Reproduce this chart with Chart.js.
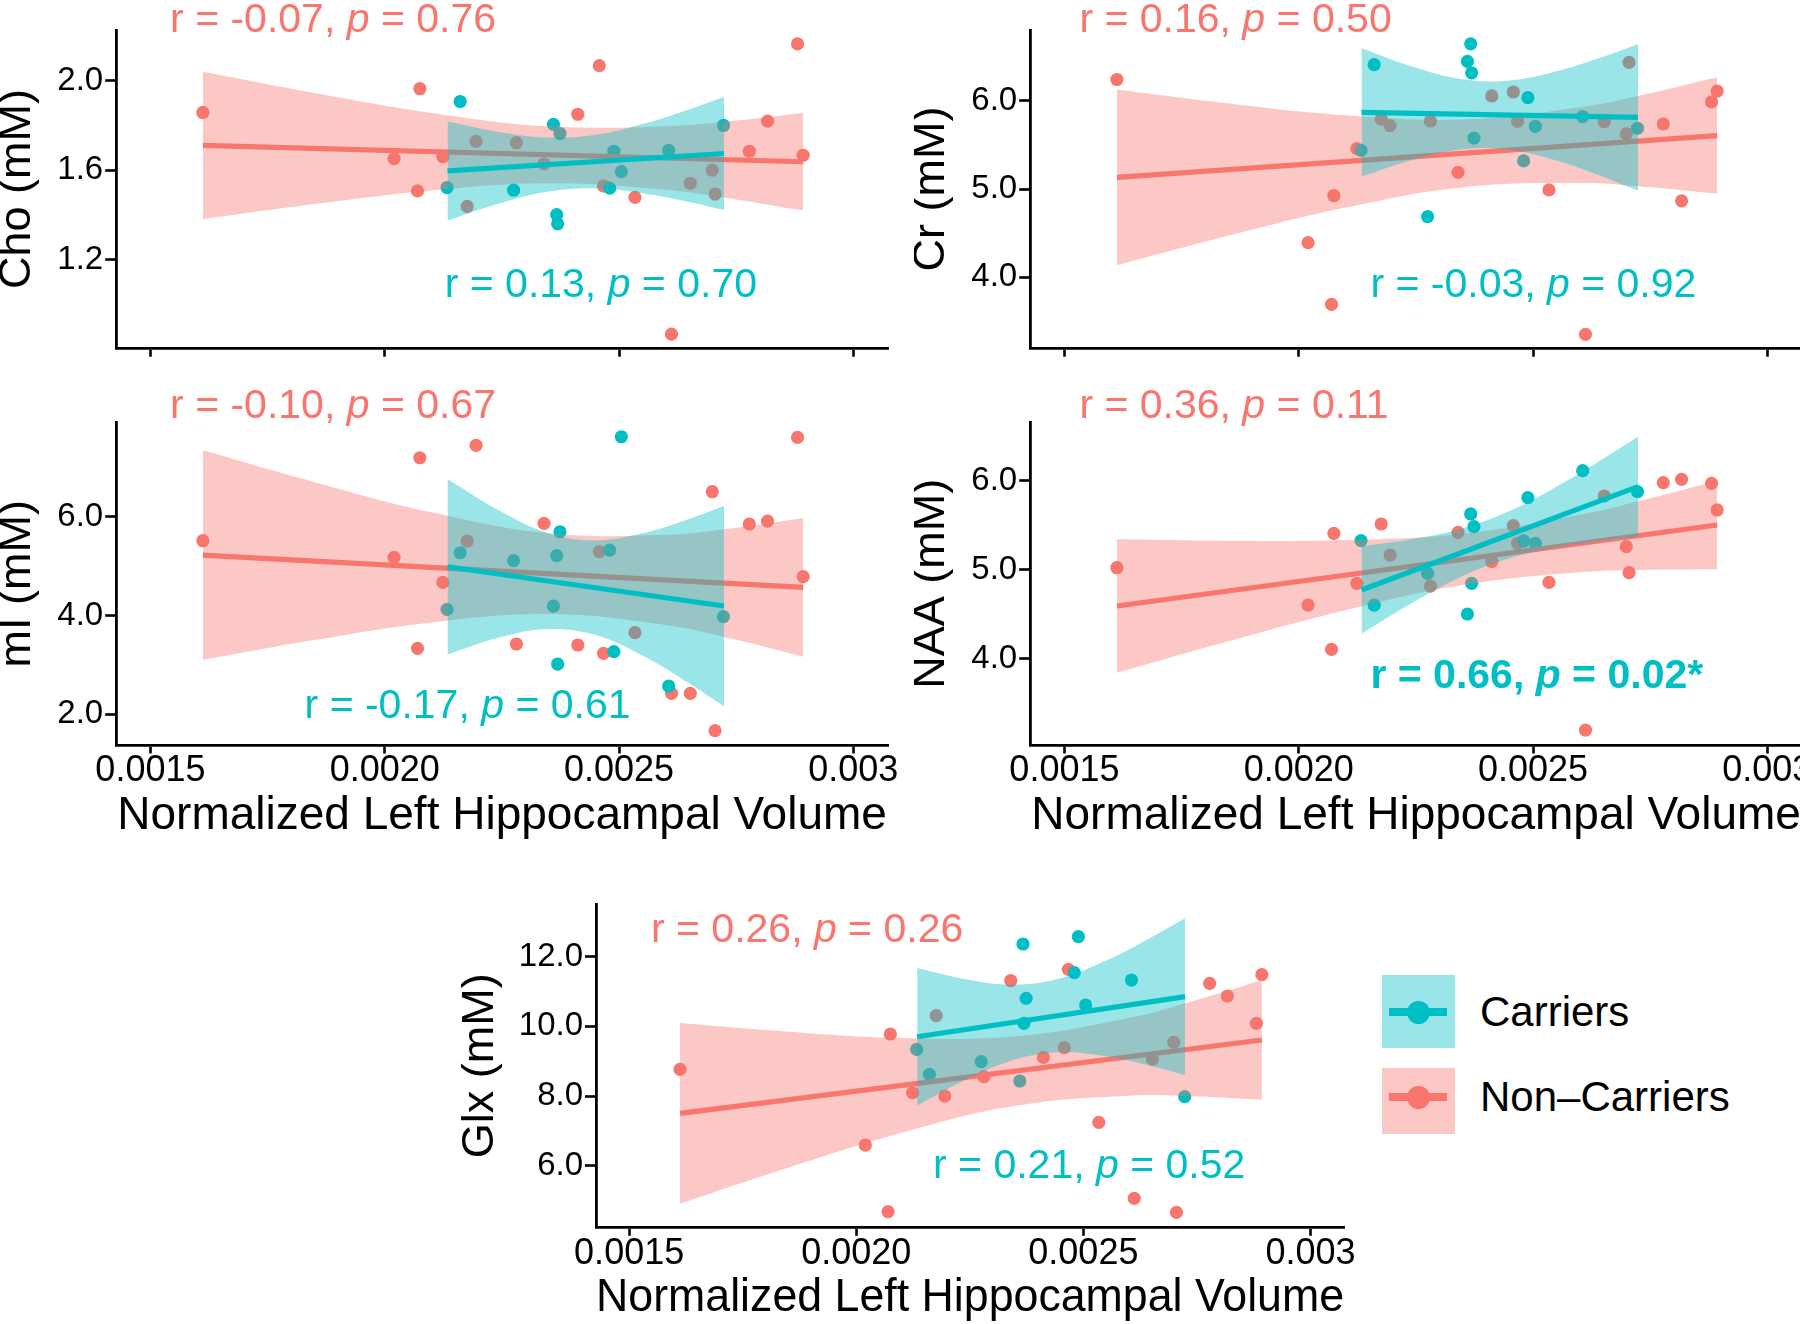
<!DOCTYPE html>
<html>
<head>
<meta charset="utf-8">
<title>MRS metabolites vs hippocampal volume</title>
<script src="https://cdn.jsdelivr.net/npm/chart.js@4.4.1/dist/chart.umd.min.js"></script>
<style>
html, body { margin: 0; padding: 0; background: #fff; }
body { width: 1800px; height: 1324px; position: relative; overflow: hidden;
       font-family: "Liberation Sans", Arial, Helvetica, sans-serif; }
.panel { position: absolute; }
.key { position: absolute; left: 1382px; width: 73px; }
.key .bar { position: absolute; left: 7px; width: 58px; height: 8px; }
.key .dot { position: absolute; left: 25px; width: 23px; height: 23px; border-radius: 50%; }
.key-label { position: absolute; left: 1480px; font-size: 42px; line-height: 42px; color: #000; white-space: nowrap; }
</style>
</head>
<body>

<div class="panel" style="left:0px;top:0px;width:900px;height:370px"><canvas id="chartCho"></canvas></div>
<div class="panel" style="left:913.6px;top:0px;width:900px;height:370px"><canvas id="chartCr"></canvas></div>
<div class="panel" style="left:0px;top:370px;width:900px;height:480px"><canvas id="chartMi"></canvas></div>
<div class="panel" style="left:913.6px;top:370px;width:900px;height:480px"><canvas id="chartNaa"></canvas></div>
<div class="panel" style="left:455.7px;top:870px;width:900px;height:454px"><canvas id="chartGlx"></canvas></div>

<!-- legend -->
<div class="key" style="top:975px;height:73px;background:rgba(0,191,196,0.4)">
  <div class="bar" style="top:33px;background:#00BFC4"></div>
  <div class="dot" style="top:25.5px;background:#00BFC4"></div>
</div>
<div class="key-label" style="top:991px">Carriers</div>
<div class="key" style="top:1068px;height:66px;background:rgba(248,118,109,0.4)">
  <div class="bar" style="top:25px;background:#F8766D"></div>
  <div class="dot" style="top:17.5px;background:#F8766D"></div>
</div>
<div class="key-label" style="top:1076px">Non&#8211;Carriers</div>

<script>
// Subject volumes (same subjects in every panel)
const nonCarrierVol = [0.001612, 0.002020, 0.002070, 0.002075, 0.002124, 0.002176, 0.002195, 0.002281, 0.002340, 0.002412, 0.002458,
                       0.002467, 0.002534, 0.002612, 0.002652, 0.002699, 0.002705, 0.002778, 0.002817, 0.002881, 0.002893];
const carrierVol = [0.002133, 0.002161, 0.002275, 0.002360, 0.002367, 0.002369, 0.002374, 0.002480, 0.002489, 0.002505, 0.002606, 0.002723];

const nonBandX = [0.001612, 0.00185, 0.0021, 0.00235, 0.0026, 0.00275, 0.002893];
const carBandX = [0.002134, 0.00225, 0.00235, 0.00245, 0.00255, 0.00264, 0.002724];

const xTicks = [0.0015, 0.002, 0.0025, 0.003];
const xTickLabels = ['0.0015', '0.0020', '0.0025', '0.003'];

// Cho
const choNon = [1.857, 1.651, 1.507, 1.963, 1.660, 1.438, 1.728, 1.722, 1.628, 1.849, 2.066, 1.529, 1.478, 0.868, 1.541, 1.600, 1.493, 1.684, 1.818, 2.163, 1.666];
const choCar = [1.522, 1.906, 1.510, 1.804, 1.401, 1.360, 1.763, 1.519, 1.684, 1.593, 1.688, 1.799];
const choNonFit = [1.710, 1.637];
const choCarFit = [1.596, 1.674];
const choNonUp = [2.039, 1.944, 1.855, 1.795, 1.796, 1.821, 1.855];
const choNonLo = [1.381, 1.448, 1.509, 1.541, 1.512, 1.469, 1.419];
const choCarUp = [1.817, 1.768, 1.745, 1.757, 1.805, 1.864, 1.926];
const choCarLo = [1.375, 1.454, 1.504, 1.519, 1.497, 1.462, 1.422];
const choTicks = [1.2, 1.6, 2.0];
const choTickLabels = ['1.2', '1.6', '2.0'];
const choStats = ['r = -0.07, p = 0.76', 'r = 0.13, p = 0.70'];

// Cr
const crNon = [6.243, 4.393, 3.693, 4.927, 5.458, 5.794, 5.720, 5.772, 5.189, 6.056, 6.101, 5.768, 4.991, 3.353, 5.764, 5.626, 6.437, 5.738, 4.867, 5.989, 6.112];
const crCar = [5.439, 6.411, 4.688, 6.449, 6.647, 6.318, 5.578, 5.320, 6.037, 5.712, 5.821, 5.690];
const crNonFit = [5.133, 5.607];
const crCarFit = [5.869, 5.813];
const crNonUp = [6.130, 5.972, 5.838, 5.790, 5.928, 6.087, 6.267];
const crNonLo = [4.137, 4.470, 4.790, 5.022, 5.070, 5.021, 4.947];
const crCarUp = [6.596, 6.375, 6.246, 6.231, 6.336, 6.484, 6.643];
const crCarLo = [5.142, 5.341, 5.452, 5.447, 5.324, 5.158, 4.983];
const crTicks = [4.0, 5.0, 6.0];
const crTickLabels = ['4.0', '5.0', '6.0'];
const crStats = ['r = 0.16, p = 0.50', 'r = -0.03, p = 0.92'];

// mI
const miNon = [5.514, 5.177, 3.336, 7.194, 4.671, 5.508, 7.444, 3.423, 5.865, 3.403, 5.292, 3.234, 3.653, 2.425, 2.425, 6.506, 1.669, 5.852, 5.912, 7.605, 4.786];
const miCar = [4.125, 5.271, 5.110, 4.192, 5.211, 3.018, 5.696, 5.325, 3.268, 7.619, 2.573, 3.976];
const miNonFit = [5.224, 4.570];
const miCarFit = [4.988, 4.192];
const miNonUp = [7.344, 6.700, 6.089, 5.664, 5.633, 5.778, 5.973];
const miNonLo = [3.104, 3.504, 3.861, 4.030, 3.808, 3.508, 3.167];
const miCarUp = [6.765, 6.096, 5.666, 5.520, 5.664, 5.925, 6.219];
const miCarLo = [3.211, 3.568, 3.728, 3.604, 3.190, 2.685, 2.165];
const miTicks = [2.0, 4.0, 6.0];
const miTickLabels = ['2.0', '4.0', '6.0'];
const miStats = ['r = -0.10, p = 0.67', 'r = -0.17, p = 0.61'];

// NAA
const naaNon = [5.024, 4.604, 4.105, 5.411, 4.848, 5.516, 5.167, 4.818, 5.422, 5.092, 5.497, 5.298, 4.859, 3.197, 5.831, 5.261, 4.968, 5.981, 6.019, 5.974, 5.674];
const naaCar = [5.328, 4.604, 4.961, 4.503, 5.629, 4.848, 5.486, 5.325, 5.812, 5.298, 6.116, 5.880];
const naaNonFit = [4.593, 5.505];
const naaCarFit = [4.773, 5.936];
const naaNonUp = [5.344, 5.328, 5.335, 5.407, 5.619, 5.805, 6.002];
const naaNonLo = [3.842, 4.196, 4.546, 4.829, 4.973, 5.001, 5.008];
const naaCarUp = [5.265, 5.352, 5.467, 5.661, 5.936, 6.219, 6.497];
const naaCarLo = [4.281, 4.652, 4.931, 5.131, 5.251, 5.322, 5.375];
const naaTicks = [4.0, 5.0, 6.0];
const naaTickLabels = ['4.0', '5.0', '6.0'];
const naaStats = ['r = 0.36, p = 0.11', 'r = 0.66, p = 0.02*'];

// Glx
const glxNon = [8.766, 6.593, 4.679, 9.780, 8.096, 10.306, 8.000, 8.555, 11.311, 9.110, 9.388, 11.636, 7.244, 5.062, 9.062, 9.541, 4.660, 11.234, 10.871, 10.086, 11.483];
const glxCar = [9.340, 8.622, 8.986, 8.431, 12.364, 10.086, 10.804, 11.541, 12.574, 10.612, 11.330, 7.981];
const glxNonFit = [7.502, 9.608];
const glxCarFit = [9.703, 10.852];
const glxNonUp = [10.094, 9.847, 9.666, 9.714, 10.242, 10.760, 11.324];
const glxNonLo = [4.910, 5.939, 6.942, 7.717, 8.010, 7.986, 7.892];
const glxCarUp = [11.676, 11.333, 11.200, 11.382, 11.887, 12.488, 13.104];
const glxCarLo = [7.730, 8.525, 9.048, 9.254, 9.139, 8.889, 8.600];
const glxTicks = [6.0, 8.0, 10.0, 12.0];
const glxTickLabels = ['6.0', '8.0', '10.0', '12.0'];
const glxStats = ['r = 0.26, p = 0.26', 'r = 0.21, p = 0.52'];

const TEAL = '#00BFC4';
const RED = '#F8766D';
const TEAL_BAND = 'rgba(0,191,196,0.4)';
const RED_BAND = 'rgba(248,118,109,0.4)';
const FONT = '"Liberation Sans", Arial, Helvetica, sans-serif';
const X_MIN = 0.001427, X_MAX = 0.003074;

// draw "r = .., p = .." with an italic p
function drawStat(ctx, px, py, text, color, bold) {
    const w = bold ? 'bold ' : '';
    const i = text.indexOf(', p');
    const parts = [[text.slice(0, i + 2), ''], ['p', 'italic '], [text.slice(i + 3), '']];
    ctx.save();
    ctx.fillStyle = color;
    ctx.textBaseline = 'alphabetic';
    ctx.textAlign = 'left';
    let x = px;
    parts.forEach(([t, st]) => {
        ctx.font = st + w + '41px ' + FONT;
        ctx.fillText(t, x, py);
        x += ctx.measureText(t).width;
    });
    ctx.restore();
}

function makePanel(id, p) {
    const pts = (xs, ys) => xs.map((x, i) => ({x: x, y: ys[i]}));
    const ends = (xs, fit) => [{x: xs[0], y: fit[0]}, {x: xs[xs.length - 1], y: fit[1]}];
    const band = (xs, ys, color, order, fill) => ({
        data: pts(xs, ys), showLine: true, tension: 0.4, borderWidth: 0,
        borderColor: 'rgba(0,0,0,0)', pointRadius: 0, backgroundColor: color, fill: fill, order: order
    });
    const statsPlugin = {
        id: 'stats' + id,
        afterDatasetsDraw(chart) {
            const {ctx, scales} = chart;
            p.stats.forEach(s => drawStat(ctx, scales.x.getPixelForValue(s.x), scales.y.getPixelForValue(s.y), s.text, s.color, s.bold));
        }
    };
    const canvasW = p.w, canvasH = p.h;
    new Chart(document.getElementById(id).getContext('2d'), {
        type: 'scatter',
        data: {
            datasets: [
                { data: ends(carBandX, p.carFit), showLine: true, borderColor: TEAL, borderWidth: 5.2, pointRadius: 0, order: 1 },
                band(carBandX, p.carUp, TEAL_BAND, 2, '+1'),
                band(carBandX, p.carLo, 'rgba(0,0,0,0)', 2, false),
                { data: ends(nonBandX, p.nonFit), showLine: true, borderColor: RED, borderWidth: 5.2, pointRadius: 0, order: 3 },
                band(nonBandX, p.nonUp, RED_BAND, 4, '+1'),
                band(nonBandX, p.nonLo, 'rgba(0,0,0,0)', 4, false),
                { data: pts(carrierVol, p.car), pointRadius: 6.6, pointBorderWidth: 0, backgroundColor: TEAL, order: 5 },
                { data: pts(nonCarrierVol, p.non), pointRadius: 6.6, pointBorderWidth: 0, backgroundColor: RED, order: 6 }
            ]
        },
        options: {
            responsive: true,
            maintainAspectRatio: false,
            animation: false,
            events: [],
            layout: { autoPadding: false, padding: { left: 0, top: p.area.top, right: canvasW - p.area.right, bottom: 0 } },
            plugins: { legend: { display: false }, tooltip: { enabled: false } },
            scales: {
                x: {
                    type: 'linear', min: X_MIN, max: X_MAX,
                    afterBuildTicks: s => { s.ticks = xTicks.map(v => ({value: v})); },
                    afterFit: s => { s.height = canvasH - p.area.bottom; },
                    ticks: { display: p.showX, autoSkip: false, maxRotation: 0, padding: 0, color: '#000',
                             font: { family: FONT, size: 36, lineHeight: 1 },
                             callback: (v, i) => xTickLabels[i] },
                    grid: { drawOnChartArea: false, drawTicks: true, tickLength: 8.5, tickWidth: 2.6, tickColor: '#000' },
                    border: { display: true, color: '#000', width: 2.8 },
                    title: { display: p.showX, text: 'Normalized Left Hippocampal Volume', color: '#000',
                             font: { family: FONT, size: 46, lineHeight: 1 }, padding: { top: 0, bottom: p.xTitlePad } }
                },
                y: {
                    type: 'linear', min: p.yMin, max: p.yMax,
                    afterBuildTicks: s => { s.ticks = p.ticks.map(v => ({value: v})); },
                    afterFit: s => { s.width = p.area.left; },
                    ticks: { autoSkip: false, padding: 2, color: '#000', font: { family: FONT, size: 33, lineHeight: 1.2 },
                             callback: (v, i) => p.tickLabels[i] },
                    grid: { drawOnChartArea: false, drawTicks: true, tickLength: 11, tickWidth: 2.6, tickColor: '#000' },
                    border: { display: true, color: '#000', width: 2.8 },
                    title: { display: true, text: p.yTitle, color: '#000',
                             font: { family: FONT, size: 45, lineHeight: 0.78 }, padding: { top: p.yTitlePad, bottom: 0 } }
                }
            }
        },
        plugins: [statsPlugin]
    });
}

const topArea = { left: 116.2, top: 30, right: 888, bottom: 351.7 };
const midArea = { left: 116.2, top: 52.7, right: 888, bottom: 375 };

makePanel('chartCho', {
    w: 900, h: 370, area: topArea, showX: false, xTitlePad: 0, yTitlePad: 0.5,
    yMin: 0.805, yMax: 2.225, ticks: choTicks, tickLabels: choTickLabels, yTitle: 'Cho (mM)',
    non: choNon, car: choCar, nonFit: choNonFit, carFit: choCarFit,
    nonUp: choNonUp, nonLo: choNonLo, carUp: choCarUp, carLo: choCarLo,
    stats: [{ text: choStats[0], x: 0.001542, y: 2.2176, color: RED },
            { text: choStats[1], x: 0.002128, y: 1.0335, color: TEAL }]
});

makePanel('chartCr', {
    w: 900, h: 370, area: topArea, showX: false, xTitlePad: 0, yTitlePad: 0.5,
    yMin: 3.196, yMax: 6.804, ticks: crTicks, tickLabels: crTickLabels, yTitle: 'Cr (mM)',
    non: crNon, car: crCar, nonFit: crNonFit, carFit: crCarFit,
    nonUp: crNonUp, nonLo: crNonLo, carUp: crCarUp, carLo: crCarLo,
    stats: [{ text: crStats[0], x: 0.001532, y: 6.785, color: RED },
            { text: crStats[1], x: 0.002153, y: 3.776, color: TEAL }]
});

makePanel('chartMi', {
    w: 900, h: 480, area: midArea, showX: true, xTitlePad: 10.3, yTitlePad: 0.5,
    yMin: 1.379, yMax: 7.903, ticks: miTicks, tickLabels: miTickLabels, yTitle: 'mI (mM)',
    non: miNon, car: miCar, nonFit: miNonFit, carFit: miCarFit,
    nonUp: miNonUp, nonLo: miNonLo, carUp: miCarUp, carLo: miCarLo,
    stats: [{ text: miStats[0], x: 0.001542, y: 7.992, color: RED },
            { text: miStats[1], x: 0.001829, y: 1.919, color: TEAL }]
});

makePanel('chartNaa', {
    w: 900, h: 480, area: midArea, showX: true, xTitlePad: 10.3, yTitlePad: 0.5,
    yMin: 3.029, yMax: 6.656, ticks: naaTicks, tickLabels: naaTickLabels, yTitle: 'NAA (mM)',
    non: naaNon, car: naaCar, nonFit: naaNonFit, carFit: naaCarFit,
    nonUp: naaNonUp, nonLo: naaNonLo, carUp: naaCarUp, carLo: naaCarLo,
    stats: [{ text: naaStats[0], x: 0.001532, y: 6.706, color: RED },
            { text: naaStats[1], x: 0.002153, y: 3.667, color: TEAL, bold: true }]
});

makePanel('chartGlx', {
    w: 900, h: 454, area: { left: 140, top: 34.3, right: 889.4, bottom: 357.3 }, showX: true, xTitlePad: 2.7, yTitlePad: 6.7,
    yMin: 4.231, yMax: 13.504, ticks: glxTicks, tickLabels: glxTickLabels, yTitle: 'Glx (mM)',
    non: glxNon, car: glxCar, nonFit: glxNonFit, carFit: glxCarFit,
    nonUp: glxNonUp, nonLo: glxNonLo, carUp: glxCarUp, carLo: glxCarLo,
    stats: [{ text: glxStats[0], x: 0.001548, y: 12.431, color: RED },
            { text: glxStats[1], x: 0.002169, y: 5.638, color: TEAL }]
});
</script>
</body>
</html>
